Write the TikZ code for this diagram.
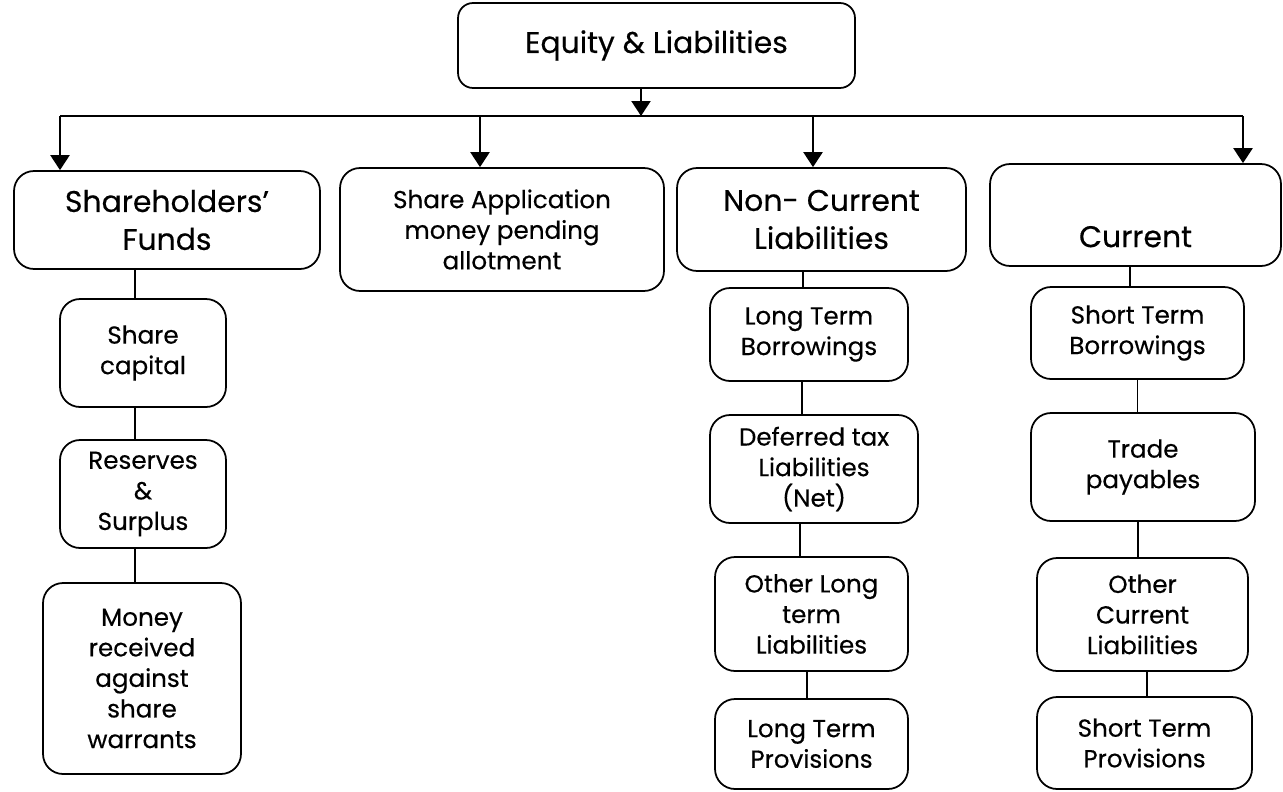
\documentclass[tikz,border=0pt]{standalone}
\usepackage{fontspec}
\setmainfont{Poppins}[FakeBold=0.4]
\usetikzlibrary{arrows.meta}

\begin{document}
\begin{tikzpicture}[x=0.02cm, y=-0.02cm,
  box/.style={draw, line width=1pt, rounded corners=0.4cm, align=center, inner sep=0pt},
  head/.style={box, font=\fontsize{17}{21.6}\selectfont},
  item/.style={box, font=\fontsize{14}{17.4}\selectfont},
  link/.style={line width=0.9pt},
  bus/.style={line width=1.3pt},
  feed/.style={line width=1.3pt, -{Triangle[length=0.3cm, width=0.38cm]}}]
  \useasboundingbox (0,0) rectangle (1283,791);
  \node[head, rounded corners=0.3cm, minimum width=7.94cm, minimum height=1.7cm] (el) at (656.5,45.5) {Equity \& Liabilities};
  \node[head, minimum width=6.12cm, minimum height=1.96cm] (sf) at (167,220) {Shareholders’\\Funds};
  \node[item, minimum width=6.48cm, minimum height=2.46cm] (sa) at (502,229.5) {Share Application\\money pending\\allotment};
  \node[head, minimum width=5.78cm, minimum height=2.06cm] (ncl) at (821.5,219.5) {Non- Current\\Liabilities};
  \node[head, minimum width=5.82cm, minimum height=2.04cm] (cur) at (1135.5,215) {\strut\\Current};
  \node[item, minimum width=3.32cm, minimum height=2.16cm] (sc) at (143,353) {Share\\capital};
  \node[item, minimum width=3.32cm, minimum height=2.16cm] (rs) at (143,494) {Reserves\\\&\\Surplus};
  \node[item, minimum width=3.96cm, minimum height=3.82cm] (mr) at (142,678.5) {Money\\received\\against\\share\\warrants};
  \node[item, minimum width=3.96cm, minimum height=1.86cm] (ltb) at (809,334.5) {Long Term\\Borrowings};
  \node[item, minimum width=4.16cm, minimum height=2.16cm] (dtl) at (814,469) {Deferred tax\\Liabilities\\(Net)};
  \node[item, minimum width=3.86cm, minimum height=2.28cm] (olt) at (811.5,614) {Other Long\\term\\Liabilities};
  \node[item, minimum width=3.86cm, minimum height=1.80cm] (ltp) at (811.5,744) {Long Term\\Provisions};
  \node[item, minimum width=4.26cm, minimum height=1.84cm] (stb) at (1137.5,333) {Short Term\\Borrowings};
  \node[item, minimum width=4.48cm, minimum height=2.16cm] (tp) at (1143,467) {Trade\\payables};
  \node[item, minimum width=4.22cm, minimum height=2.26cm] (ocl) at (1142.5,614.5) {Other\\Current\\Liabilities};
  \node[item, minimum width=4.30cm, minimum height=1.84cm] (stp) at (1144.5,743) {Short Term\\Provisions};
  \coordinate (b0) at (641,116);
  \coordinate (b1) at (60,116);
  \coordinate (b2) at (480,116);
  \coordinate (b3) at (813,116);
  \coordinate (b4) at (1243,116);
  \draw[feed] (b0 |- el.south) -- (b0);
  \draw[bus] (b1) -- (b4);
  \draw[feed] (b1) -- (b1 |- sf.north);
  \draw[feed] (b2) -- (b2 |- sa.north);
  \draw[feed] (b3) -- (b3 |- ncl.north);
  \draw[feed] (b4) -- (b4 |- cur.north);
  \draw[link] ([xshift=-0.16cm]sc.north |- sf.south) -- ([xshift=-0.16cm]sc.north);
  \draw[link] ([xshift=-0.16cm]sc.south) -- ([xshift=-0.16cm]sc.south |- rs.north);
  \draw[link] ([xshift=-0.16cm]rs.south) -- ([xshift=-0.16cm]rs.south |- mr.north);
  \draw[link] ([xshift=-0.12cm]ltb.north |- ncl.south) -- ([xshift=-0.12cm]ltb.north);
  \draw[link] ([xshift=-0.14cm]ltb.south) -- ([xshift=-0.14cm]ltb.south |- dtl.north);
  \draw[link] ([xshift=-0.23cm]olt.north |- dtl.south) -- ([xshift=-0.23cm]olt.north);
  \draw[link] ([xshift=-0.09cm]ltp.north |- olt.south) -- ([xshift=-0.09cm]ltp.north);
  \draw[link] ([xshift=-0.15cm]stb.north |- cur.south) -- ([xshift=-0.15cm]stb.north);
  \draw[link] (stb.south) -- (stb.south |- tp.north);
  \draw[link] ([xshift=-0.09cm]ocl.north |- tp.south) -- ([xshift=-0.09cm]ocl.north);
  \draw[link] ([xshift=0.05cm]stp.north |- ocl.south) -- ([xshift=0.05cm]stp.north);
\end{tikzpicture}
\end{document}
